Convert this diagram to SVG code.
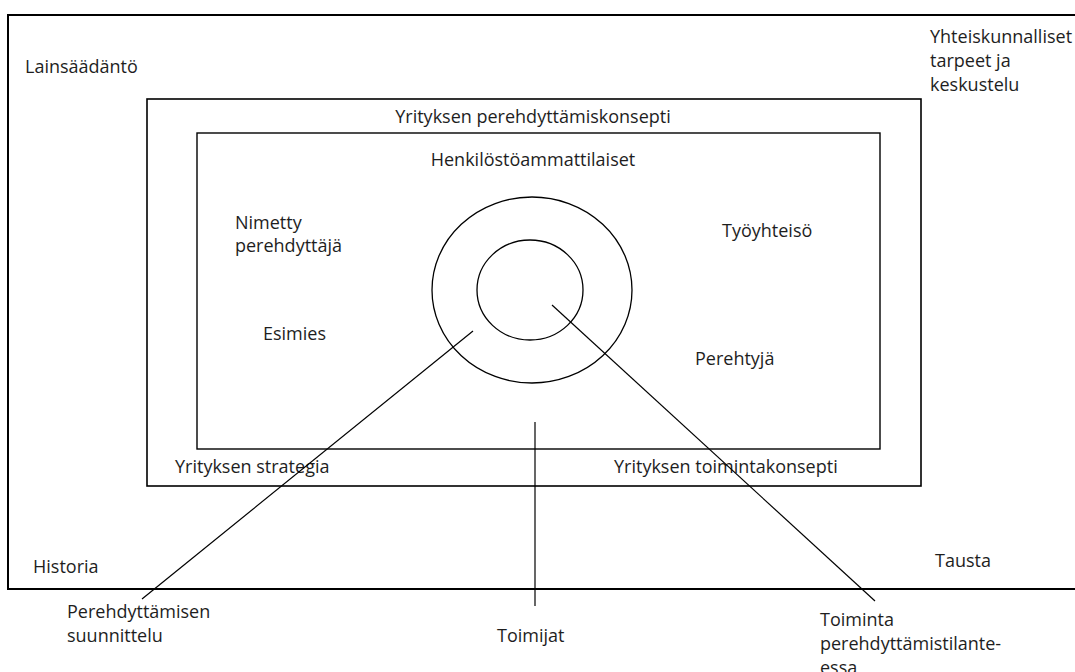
<svg xmlns="http://www.w3.org/2000/svg" width="1075" height="672" viewBox="0 0 1075 672">
<style>
  text { font-family: "Open Sans", "Noto Sans", sans-serif; font-size: 18px; fill: #1e1e1e; }
  .c { text-anchor: middle; }
  .frame { fill: none; stroke: #000; }
  .conn { fill: none; stroke: #000; stroke-width: 1.2; }
</style>
<rect width="1075" height="672" fill="#fff"/>
<g id="outer">
  <path class="frame" stroke-width="2" d="M1076,15 H8 V589 H1076"/>
  <text x="25" y="73">Lainsäädäntö</text>
  <text x="930" y="43">Yhteiskunnalliset</text>
  <text x="930" y="67">tarpeet ja</text>
  <text x="930" y="91">keskustelu</text>
  <text x="33" y="573">Historia</text>
  <text x="935" y="567">Tausta</text>
</g>
<g id="middle">
  <rect class="frame" stroke-width="1.6" x="147" y="99" width="774" height="387"/>
  <text class="c" x="533" y="123">Yrityksen perehdyttämiskonsepti</text>
  <text x="175" y="473">Yrityksen strategia</text>
  <text x="614" y="473">Yrityksen toimintakonsepti</text>
</g>
<g id="inner">
  <rect class="frame" stroke-width="1.4" x="197" y="133" width="683" height="316"/>
  <text class="c" x="533" y="166">Henkilöstöammattilaiset</text>
  <text x="235" y="229">Nimetty</text>
  <text x="235" y="252">perehdyttäjä</text>
  <text x="263" y="340">Esimies</text>
  <text x="722" y="237">Työyhteisö</text>
  <text x="695" y="365">Perehtyjä</text>
</g>
<g id="circles">
  <ellipse class="frame" stroke-width="1.3" cx="532" cy="290" rx="100" ry="93"/>
  <ellipse class="frame" stroke-width="1.3" cx="530" cy="290" rx="53" ry="50"/>
</g>
<g id="connectors">
  <line class="conn" x1="473" y1="331" x2="142" y2="599"/>
  <line class="conn" x1="535" y1="422" x2="535" y2="606"/>
  <line class="conn" x1="552" y1="305" x2="875" y2="601"/>
</g>
<g id="labels">
  <text x="67" y="618">Perehdyttämisen</text>
  <text x="67" y="642">suunnittelu</text>
  <text x="497" y="642">Toimijat</text>
  <text x="820" y="626">Toiminta</text>
  <text x="820" y="650">perehdyttämistilante-</text>
  <text x="820" y="674">essa</text>
</g>
</svg>
